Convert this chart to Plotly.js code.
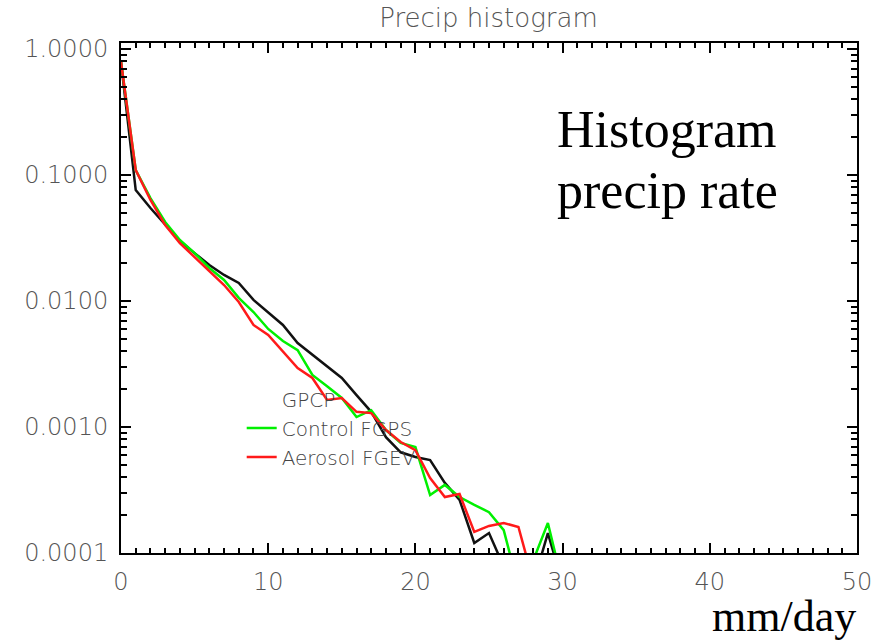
<!DOCTYPE html>
<html>
<head>
<meta charset="utf-8">
<script src="https://cdn.plot.ly/plotly-3.0.1.min.js"></script>
<style>html,body{margin:0;padding:0;background:#fff;}#chart{width:877px;height:642px;}</style>
</head>
<body>
<div id="chart"></div>
<script>
// precipitation rate bins (mm/day)
const binsBlack = [0,1,2,3,4,5,6,7,8,9,10,11,12,13,14,15,16,17,18,19,20,21,22,23,24,25,26,27,28,29,30];
const gpcp = [0.79,0.076,0.0547,0.0401,0.0299,0.0240,0.0193,0.0161,0.0139,0.0102,0.00818,0.00646,0.00464,0.00373,0.00305,0.00245,0.00179,0.00132,0.00083,0.00063,0.000578,0.000547,0.000360,0.000264,0.000120,0.000144,0.000078,0.00003,0.000057,0.000144,0.000057];

const binsGreen = [0,1,2,3,4,5,6,7,8,9,10,11,12,13,14,15,16,17,18,19,20,21,22,23,24,25,26,27,28,29,30];
const controlFGPS = [0.79,0.1096,0.0656,0.0424,0.0305,0.0240,0.0183,0.0147,0.0106,0.00818,0.0060,0.00482,0.00408,0.00259,0.00211,0.00170,0.00120,0.00136,0.000946,0.000747,0.000693,0.000288,0.000347,0.000278,0.000241,0.000211,0.000152,0.000054,0.000087,0.000173,0.000057];

const binsRed = [0,1,2,3,4,5,6,7,8,9,10,11,12,13,14,15,16,17,18,19,20,21,22,23,24,25,26,27,28];
const aerosolFGEV = [0.79,0.1096,0.0634,0.0401,0.0288,0.0223,0.0170,0.0134,0.00982,0.00646,0.00537,0.00394,0.00294,0.00245,0.00164,0.00170,0.00132,0.00129,0.000946,0.00076,0.000656,0.000394,0.000278,0.000294,0.000147,0.000164,0.000173,0.000161,0.00006];

const yTickVals = [1, 0.1, 0.01, 0.001, 0.0001];
const yTickText = ["1.0000", "0.1000", "0.0100", "0.0010", "0.0001"];
const xTickVals = [0, 10, 20, 30, 40, 50];

const gray = "#555555";
const idlFont = "DejaVu Sans";
const tickFont = {family: idlFont, size: 24, color: gray, weight: 200};

const traces = [
  {x: binsBlack, y: gpcp, type: "scatter", mode: "lines", name: "GPCP", showlegend: false,
   line: {color: "#111111", width: 2.5}},
  {x: [null], y: [null], type: "scatter", mode: "lines", name: "GPCP", legendrank: 1,
   line: {color: "rgba(0,0,0,0)", width: 2.5}},
  {x: binsGreen, y: controlFGPS, type: "scatter", mode: "lines", name: "Control FGPS", legendrank: 2,
   line: {color: "#00f000", width: 2.5}},
  {x: binsRed, y: aerosolFGEV, type: "scatter", mode: "lines", name: "Aerosol FGEV", legendrank: 3,
   line: {color: "#ff1a1a", width: 2.5}}
];

const layout = {
  width: 877, height: 642,
  margin: {l: 121, r: 20, t: 43, b: 89},
  paper_bgcolor: "#ffffff", plot_bgcolor: "#ffffff",
  title: {text: "Precip histogram", font: {family: idlFont, size: 26, color: gray, weight: 200},
          x: 0.557, xanchor: "center", y: 0.972, yanchor: "middle"},
  xaxis: {range: [0, 50], tickvals: xTickVals, ticks: "inside", ticklen: 10, tickwidth: 2,
          tickcolor: "#000", showline: true, linecolor: "#000", linewidth: 2, mirror: "allticks",
          showgrid: false, zeroline: false, tickfont: tickFont, ticklabelstandoff: 6,
          minor: {ticks: "inside", dtick: 1, ticklen: 5, tickwidth: 2, tickcolor: "#000", showgrid: false}},
  yaxis: {type: "log", range: [-4, 0.048], tickvals: yTickVals, ticktext: yTickText,
          ticks: "inside", ticklen: 10, tickwidth: 2, tickcolor: "#000",
          showline: true, linecolor: "#000", linewidth: 2, mirror: "allticks",
          showgrid: false, zeroline: false, tickfont: tickFont, ticklabelstandoff: 6,
          minor: {ticks: "inside", dtick: "D1", ticklen: 6, tickwidth: 2, tickcolor: "#000", showgrid: false}},
  legend: {x: 0.164, y: 0.34, xanchor: "left", yanchor: "top", bgcolor: "rgba(0,0,0,0)",
           font: {family: idlFont, size: 20, color: "#444444", weight: 200}, tracegroupgap: 0, itemwidth: 30},
  showlegend: true,
  annotations: [
    {text: "Histogram", xref: "paper", yref: "paper", x: 0.59, y: 0.83,
     xanchor: "left", yanchor: "middle", showarrow: false, align: "left",
     font: {family: "Liberation Serif", size: 52, color: "#000"}},
    {text: "precip rate", xref: "paper", yref: "paper", x: 0.59, y: 0.71,
     xanchor: "left", yanchor: "middle", showarrow: false, align: "left",
     font: {family: "Liberation Serif", size: 52, color: "#000"}},
    {text: "mm/day", xref: "paper", yref: "paper", x: 1.0, y: -0.174,
     xanchor: "right", yanchor: "bottom", showarrow: false, borderpad: 0,
     font: {family: "Liberation Serif", size: 44, color: "#000"}}
  ]
};

Plotly.newPlot("chart", traces, layout, {displayModeBar: false, staticPlot: true});
</script>
</body>
</html>
